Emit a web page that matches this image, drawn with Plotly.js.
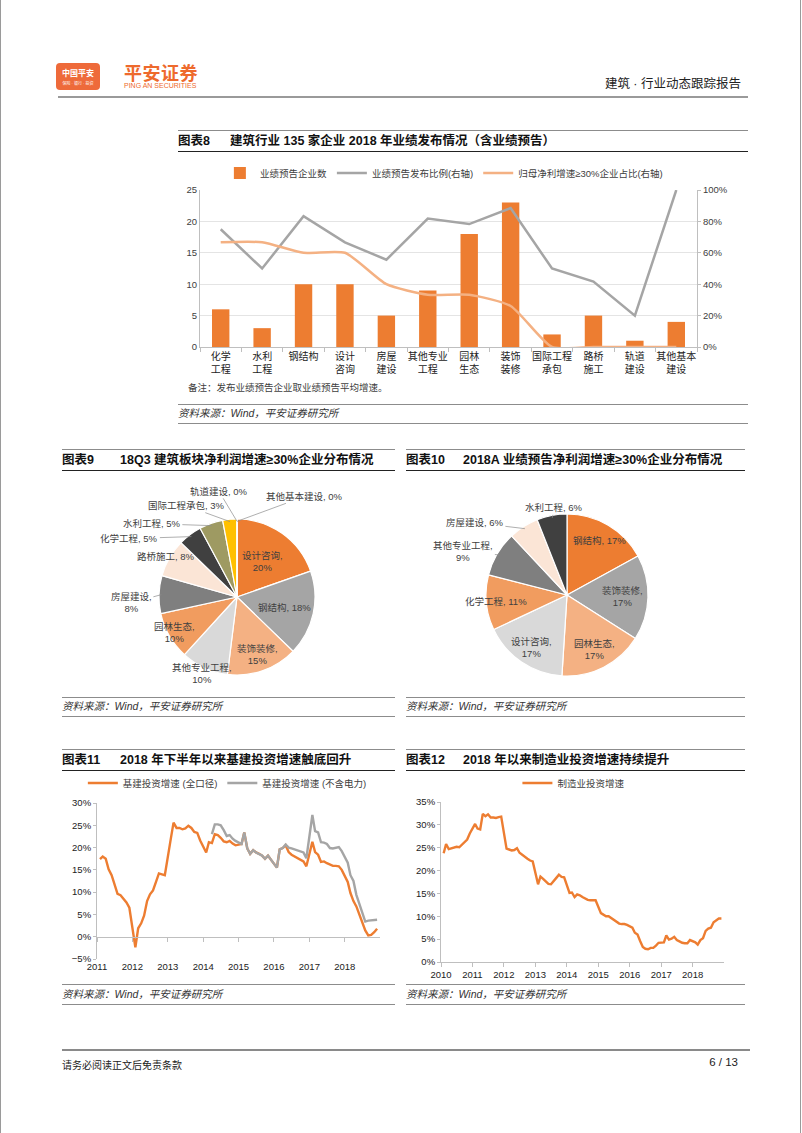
<!DOCTYPE html>
<html><head><meta charset="utf-8">
<script src="https://cdn.plot.ly/plotly-3.0.1.min.js"></script>
<style>
body{margin:0;width:802px;height:1133px;position:relative;background:#fff;font-family:"Liberation Sans","Noto Sans CJK SC",sans-serif;overflow:hidden}
.abs{position:absolute;white-space:nowrap}
.rule{position:absolute;height:0;border-top:1px solid #8c8c8c}
.brule{position:absolute;height:0;border-top:1.3px solid #222}
.ttl{position:absolute;font-weight:bold;font-size:12.5px;color:#111;white-space:nowrap;line-height:14px}
.src{position:absolute;font-style:italic;font-size:10.5px;color:#333;white-space:nowrap;line-height:12px}
.chart{position:absolute}
</style></head>
<body>
<div class="abs" style="left:0;top:0;width:1px;height:1133px;background:#9a9a9a"></div>
<div class="abs" style="left:800px;top:0;width:1px;height:1133px;background:#9a9a9a"></div>

<!-- header -->
<div class="abs" style="left:56px;top:63px;width:44px;height:27px;background:#EE6A3A;border-radius:4px"></div>
<div class="abs" style="left:56px;top:67px;width:44px;text-align:center;font-size:8px;color:#fff;font-weight:bold">中国平安</div>
<div class="abs" style="left:56px;top:80px;width:44px;text-align:center;font-size:4px;color:#fff">保险 · 银行 · 投资</div>
<div class="abs" style="left:124px;top:59px;font-size:18px;font-weight:bold;color:#EE6A2D;letter-spacing:0.5px">平安证券</div>
<div class="abs" style="left:124px;top:82px;font-size:7px;color:#EE6A2D">PING AN SECURITIES</div>
<div class="abs" style="left:560px;width:181px;top:73px;text-align:right;font-size:12.5px;color:#222">建筑 · 行业动态跟踪报告</div>
<div class="abs" style="left:58px;top:96px;width:690px;height:2px;background:#9a9a9a"></div>

<!-- chart 8 frame -->
<div class="rule" style="left:178px;top:130px;width:570px"></div>
<div class="ttl" style="left:178px;top:134px">图表8</div>
<div class="ttl" style="left:230px;top:134px">建筑行业 135 家企业 2018 年业绩发布情况（含业绩预告）</div>
<div class="brule" style="left:178px;top:151px;width:570px"></div>
<div id="c8" class="chart" style="left:178px;top:160px;width:570px;height:235px"></div>
<div class="abs" style="left:188px;top:380px;font-size:9.5px;color:#404040">备注：发布业绩预告企业取业绩预告平均增速。</div>
<div class="rule" style="left:178px;top:404px;width:570px"></div>
<div class="src" style="left:178px;top:407px">资料来源：Wind，平安证券研究所</div>
<div class="rule" style="left:178px;top:423px;width:570px"></div>

<!-- chart 9 frame -->
<div class="rule" style="left:62px;top:449px;width:333px"></div>
<div class="ttl" style="left:62px;top:453px">图表9</div>
<div class="ttl" style="left:120px;top:453px">18Q3 建筑板块净利润增速≥30%企业分布情况</div>
<div class="brule" style="left:62px;top:470px;width:333px"></div>
<div id="c9" class="chart" style="left:62px;top:475px;width:333px;height:215px"></div>
<div class="rule" style="left:62px;top:697px;width:333px"></div>
<div class="src" style="left:62px;top:700px">资料来源：Wind，平安证券研究所</div>
<div class="rule" style="left:62px;top:716px;width:333px"></div>

<!-- chart 10 frame -->
<div class="rule" style="left:406px;top:449px;width:339px"></div>
<div class="ttl" style="left:406px;top:453px">图表10</div>
<div class="ttl" style="left:463px;top:453px">2018A 业绩预告净利润增速≥30%企业分布情况</div>
<div class="brule" style="left:406px;top:470px;width:339px"></div>
<div id="c10" class="chart" style="left:405px;top:475px;width:340px;height:215px"></div>
<div class="rule" style="left:406px;top:697px;width:339px"></div>
<div class="src" style="left:406px;top:700px">资料来源：Wind，平安证券研究所</div>
<div class="rule" style="left:406px;top:716px;width:339px"></div>

<!-- chart 11 frame -->
<div class="rule" style="left:62px;top:749px;width:333px"></div>
<div class="ttl" style="left:62px;top:753px">图表11</div>
<div class="ttl" style="left:120px;top:753px">2018 年下半年以来基建投资增速触底回升</div>
<div class="brule" style="left:62px;top:770px;width:333px"></div>
<div id="c11" class="chart" style="left:62px;top:775px;width:333px;height:205px"></div>
<div class="rule" style="left:62px;top:984px;width:333px"></div>
<div class="src" style="left:62px;top:988px">资料来源：Wind，平安证券研究所</div>
<div class="rule" style="left:62px;top:1004px;width:333px"></div>

<!-- chart 12 frame -->
<div class="rule" style="left:406px;top:749px;width:339px"></div>
<div class="ttl" style="left:406px;top:753px">图表12</div>
<div class="ttl" style="left:463px;top:753px">2018 年以来制造业投资增速持续提升</div>
<div class="brule" style="left:406px;top:770px;width:339px"></div>
<div id="c12" class="chart" style="left:405px;top:775px;width:340px;height:205px"></div>
<div class="rule" style="left:406px;top:984px;width:339px"></div>
<div class="src" style="left:406px;top:988px">资料来源：Wind，平安证券研究所</div>
<div class="rule" style="left:406px;top:1004px;width:339px"></div>

<!-- footer -->
<div class="abs" style="left:62px;top:1049px;width:688px;height:2px;background:#8a8a8a"></div>
<div class="abs" style="left:62px;top:1057px;font-size:10px;color:#222">请务必阅读正文后免责条款</div>
<div class="abs" style="left:680px;width:58px;top:1056px;text-align:right;font-size:11.5px;color:#222">6 / 13</div>

<script>
// ---------- DATA ----------
// Chart 8
const cat8 = ['化学<br>工程','水利<br>工程','钢结构','设计<br>咨询','房屋<br>建设','其他专业<br>工程','园林<br>生态','装饰<br>装修','国际工程<br>承包','路桥<br>施工','轨道<br>建设','其他基本<br>建设'];
const bars8 = [6,3,10,10,5,9,18,23,2,5,1,4];
const ratio8 = [75,50,83.3,66.7,55.6,81.8,78.3,88.5,50,41.7,20,100];
const high8 = [66.7,66.7,60,60,40,33.3,33.3,26.1,0,0,0,0];
const names8 = ['业绩预告企业数','业绩预告发布比例(右轴)','归母净利增速≥30%企业占比(右轴)'];

// Chart 9
const pie9Labels = ['设计咨询','钢结构','装饰装修','其他专业工程','园林生态','房屋建设','路桥施工','化学工程','水利工程','国际工程承包','轨道建设','其他基本建设'];
const pie9Values = [20,18,15,10,10,8,8,5,5,3,0,0];

// Chart 10
const pie10Labels = ['钢结构','装饰装修','园林生态','设计咨询','化学工程','其他专业工程','房屋建设','水利工程'];
const pie10Values = [17,17,17,17,11,9,6,6];

// Chart 11 (monthly Feb..Dec)
const years11 = [2011,2012,2013,2014,2015,2016,2017,2018];
const infraAll = [
  17.4,18.0,17.5,15.1,13.8,11.6,9.6,9.3,8.6,7.7,6.5,
  -2.4,1.9,3.0,4.7,8.0,9.5,10.4,12.3,14.2,14.0,13.8,
  22.0,25.6,24.4,24.4,24.1,24.3,24.9,24.4,23.5,23.3,21.6,
  18.9,21.2,21.0,23.0,22.8,22.2,21.4,21.2,21.5,20.9,20.5,
  20.8,23.4,19.8,18.6,19.4,18.9,18.6,18.2,17.5,18.2,17.3,
  15.5,19.6,19.9,20.5,19.0,18.4,18.0,17.6,17.3,16.9,15.8,
  21.3,19.0,18.4,16.8,16.9,16.5,16.2,15.9,15.9,15.8,15.0,
  12.3,9.8,8.0,6.8,4.9,3.1,1.4,0.3,0.4,1.0,1.8
];
const infraExStart = '2014-04';
const infraEx = [
  23.0,25.2,25.2,25.0,23.9,22.6,22.8,22.0,21.5,
  20.8,23.4,19.8,18.6,19.4,18.9,18.6,18.2,17.5,18.2,17.3,
  15.5,19.6,19.9,20.7,20.0,19.8,19.6,19.4,19.2,18.9,17.6,
  27.3,23.7,23.4,21.2,21.1,20.8,19.9,19.8,19.9,20.1,19.2,
  16.6,13.8,12.5,9.4,7.2,5.5,3.4,3.6,3.7,3.8,3.8
];
const names11 = ['基建投资增速 (全口径)','基建投资增速 (不含电力)'];

// Chart 12 (monthly Feb..Dec)
const years12 = [2010,2011,2012,2013,2014,2015,2016,2017,2018];
const manuf = [
  23.8,25.8,24.7,24.9,25.1,25.2,25.1,25.6,26.1,26.8,28.1,
  30.2,29.2,29.0,32.4,31.9,32.3,31.6,31.6,31.5,31.7,31.8,
  24.8,24.6,24.4,24.5,24.9,23.9,23.4,22.9,22.6,22.2,22.0,
  17.0,18.7,18.2,17.6,17.1,17.0,17.6,18.4,19.1,18.6,18.5,
  15.1,15.2,14.2,14.8,14.6,14.2,13.9,13.6,13.5,13.5,13.5,
  10.7,10.4,10.0,10.0,9.6,9.2,8.8,8.4,8.3,8.3,8.1,
  7.5,6.4,6.0,4.6,3.3,2.9,2.8,3.1,3.1,3.6,4.2,
  4.3,5.8,4.9,5.1,5.5,4.8,4.5,4.2,4.1,4.1,4.8,
  4.3,3.8,4.8,5.2,6.8,7.3,7.5,8.7,9.1,9.5,9.5
];
const name12 = '制造业投资增速';

// ---------- HELPERS ----------
function monthDates(years){
  const out=[];
  years.forEach(y=>{for(let m=2;m<=12;m++) out.push(y+'-'+String(m).padStart(2,'0')+'-01');});
  return out;
}
function datesFrom(start, n){
  let [y,m]=start.split('-').map(Number); const out=[];
  while(out.length<n){ out.push(y+'-'+String(m).padStart(2,'0')+'-01'); m++; if(m>12){m=2;y++;} }
  return out;
}
const FONT = '"Liberation Sans","Noto Sans CJK SC",sans-serif';
const ORANGE='#ED7D31', GRAY='#A5A5A5', LORANGE='#F4B183', AX='#BFBFBF', TXT='#404040';
const cfg={staticPlot:true,displayModeBar:false};

// ---------- CHART 8 ----------
Plotly.newPlot('c8',[
  {type:'bar',x:cat8,y:bars8,name:names8[0],marker:{color:ORANGE},width:0.42},
  {type:'scatter',mode:'lines',x:cat8,y:ratio8,yaxis:'y2',name:names8[1],line:{color:GRAY,width:2.5}},
  {type:'scatter',mode:'lines',x:cat8,y:high8,yaxis:'y2',name:names8[2],line:{color:LORANGE,width:2.5,shape:'spline',smoothing:0.6}}
],{
  width:570,height:235,margin:{l:22,r:51,t:30,b:48,autoexpand:false},
  paper_bgcolor:'rgba(0,0,0,0)',plot_bgcolor:'rgba(0,0,0,0)',
  font:{family:FONT,size:9.5,color:TXT},
  showlegend:true,
  legend:{orientation:'h',x:0.04,xanchor:'left',y:1.108,yanchor:'middle',font:{size:9.5,color:TXT},itemwidth:30,tracegroupgap:0},
  xaxis:{type:'category',tickangle:0,tickson:'boundaries',ticks:'outside',ticklen:4,tickcolor:AX,showline:true,linecolor:AX,linewidth:1,tickfont:{size:10,color:'#222'},automargin:false},
  yaxis:{range:[0,25],dtick:5,showgrid:true,gridcolor:'#E4E4E4',showline:true,linecolor:AX,zeroline:false,tickfont:{size:9.5,color:TXT},ticks:'',automargin:false},
  yaxis2:{overlaying:'y',side:'right',range:[0,100],dtick:20,ticksuffix:'%',showgrid:false,showline:true,linecolor:AX,zeroline:false,tickfont:{size:9.5,color:TXT},ticks:'outside',ticklen:3,tickcolor:AX,automargin:false}
},cfg);

// ---------- PIES (labels placed along each slice's mid-angle) ----------
function pieAnnotations(labels, values, W, H, cx, cy, R, spec){
  const total = values.reduce((a,b)=>a+b,0);
  let cum = 0; const anns=[];
  labels.forEach((lab,i)=>{
    const mid = (cum + values[i]/2)/total*2*Math.PI; cum += values[i];
    const dx = Math.sin(mid), dy = -Math.cos(mid);
    const s = spec[i];
    const text = lab+','+(s.wrap?'<br>':' ')+values[i]+'%';
    const base = {xref:'paper',yref:'paper',text:text,font:{size:9.5,color:TXT,family:FONT},xanchor:'center',yanchor:'middle',align:'center'};
    if(s.f!==undefined){
      const px = cx + dx*R*s.f, py = cy + dy*R*s.f;
      anns.push(Object.assign(base,{x:px/W,y:1-py/H,showarrow:false}));
    } else {
      const px = cx + dx*R*0.97, py = cy + dy*R*0.97;
      anns.push(Object.assign(base,{x:px/W,y:1-py/H,showarrow:true,arrowhead:0,arrowwidth:0.7,arrowcolor:'#8c8c8c',ax:s.ax,ay:s.ay,standoff:0}));
    }
  });
  return anns;
}
function pieDomain(W,H,cx,cy,R){ return {x:[(cx-R)/W,(cx+R)/W], y:[1-(cy+R)/H, 1-(cy-R)/H]}; }

// chart 9
const W9=333,H9=215,cx9=175,cy9=122,R9=78;
const pie9Colors=['#ED7D31','#A5A5A5','#F4B183','#D9D9D9','#F19C5F','#7F7F7F','#FBE5D6','#404040','#9E9A62','#FFC000','#FFC000','#ED7D31'];
const pie9Spec=[{f:0.56,wrap:1},{f:0.62,wrap:0},{f:0.78,wrap:1},{f:1.08,wrap:1},{f:0.92,wrap:1},{ax:-30,ay:8,wrap:1},{f:1.05,wrap:0},
  {ax:-62,ay:2,wrap:0},{ax:-60,ay:-2,wrap:0},{ax:-44,ay:-16,wrap:0},{ax:-18,ay:-30,wrap:0},{ax:68,ay:-25,wrap:0}];
Plotly.newPlot('c9',[{
  type:'pie',labels:pie9Labels,values:pie9Values,sort:false,direction:'clockwise',rotation:0,
  marker:{colors:pie9Colors,line:{color:'#fff',width:1.2}},textinfo:'none',
  domain:pieDomain(W9,H9,cx9,cy9,R9),showlegend:false,automargin:false
}],{width:W9,height:H9,margin:{l:0,r:0,t:0,b:0,autoexpand:false},paper_bgcolor:'rgba(0,0,0,0)',font:{family:FONT},
  annotations:pieAnnotations(pie9Labels,pie9Values,W9,H9,cx9,cy9,R9,pie9Spec)},cfg);

// chart 10
const W10=340,H10=215,cx10=162,cy10=120,R10=81;
const pie10Colors=['#ED7D31','#A5A5A5','#F4B183','#D9D9D9','#F19C5F','#7F7F7F','#FBE5D6','#404040'];
const pie10Spec=[{f:0.78,wrap:0},{f:0.68,wrap:1},{f:0.76,wrap:1},{f:0.78,wrap:1},{f:0.88,wrap:0},{ax:-36,ay:-4,wrap:1},{ax:-50,ay:-6,wrap:0},{ax:2,ay:-10,wrap:0}];
Plotly.newPlot('c10',[{
  type:'pie',labels:pie10Labels,values:pie10Values,sort:false,direction:'clockwise',rotation:0,
  marker:{colors:pie10Colors,line:{color:'#fff',width:1.2}},textinfo:'none',
  domain:pieDomain(W10,H10,cx10,cy10,R10),showlegend:false,automargin:false
}],{width:W10,height:H10,margin:{l:0,r:0,t:0,b:0,autoexpand:false},paper_bgcolor:'rgba(0,0,0,0)',font:{family:FONT},
  annotations:pieAnnotations(pie10Labels,pie10Values,W10,H10,cx10,cy10,R10,pie10Spec)},cfg);

// ---------- CHART 11 ----------
const x11=monthDates(years11);
const x11b=datesFrom(infraExStart, infraEx.length);
Plotly.newPlot('c11',[
  {type:'scatter',mode:'lines',x:x11,y:infraAll,name:names11[0],line:{color:ORANGE,width:2.4}},
  {type:'scatter',mode:'lines',x:x11b,y:infraEx,name:names11[1],line:{color:GRAY,width:2.4}},
  {type:'scatter',mode:'lines',x:[],y:[],xaxis:'x2',showlegend:false,hoverinfo:'skip'}
],{
  width:333,height:205,margin:{l:35,r:15,t:28,b:21,autoexpand:false},
  paper_bgcolor:'rgba(0,0,0,0)',plot_bgcolor:'rgba(0,0,0,0)',
  font:{family:FONT,size:9.5,color:TXT},showlegend:true,
  legend:{orientation:'h',x:-0.05,xanchor:'left',y:1.128,yanchor:'middle',font:{size:9.5,color:TXT},traceorder:'normal'},
  xaxis:{type:'date',range:['2011-01-01','2018-12-31'],dtick:'M12',tick0:'2011-01-01',tickformat:'%Y',ticks:'',showline:false,showgrid:false,zeroline:false,tickfont:{size:9.5,color:'#222'},automargin:false},
  xaxis2:{type:'date',overlaying:'x',anchor:'free',position:5/35,range:['2011-01-01','2018-12-31'],dtick:'M12',tick0:'2011-01-01',ticks:'outside',ticklen:4,tickcolor:AX,showline:true,linecolor:AX,showticklabels:false,showgrid:false,zeroline:false},
  yaxis:{range:[-5,30],dtick:5,ticksuffix:'%',showgrid:false,zeroline:false,showline:true,linecolor:AX,ticks:'outside',ticklen:3,tickcolor:AX,tickfont:{size:9.5,color:'#222'},automargin:false}
},cfg);

// ---------- CHART 12 ----------
const x12=monthDates(years12);
Plotly.newPlot('c12',[
  {type:'scatter',mode:'lines',x:x12,y:manuf,name:name12,line:{color:ORANGE,width:2.4},showlegend:true}
],{
  width:340,height:205,margin:{l:36,r:21,t:27,b:18,autoexpand:false},
  paper_bgcolor:'rgba(0,0,0,0)',plot_bgcolor:'rgba(0,0,0,0)',
  font:{family:FONT,size:9.5,color:TXT},showlegend:true,
  legend:{orientation:'h',x:0.27,xanchor:'left',y:1.119,yanchor:'middle',font:{size:9.5,color:TXT}},
  xaxis:{type:'date',range:['2010-01-01','2018-12-31'],dtick:'M12',tick0:'2010-01-01',tickformat:'%Y',ticks:'outside',ticklen:4,tickcolor:AX,showline:true,linecolor:AX,showgrid:false,zeroline:false,tickfont:{size:9.5,color:'#222'},automargin:false},
  yaxis:{range:[0,35],dtick:5,ticksuffix:'%',showgrid:false,zeroline:false,showline:true,linecolor:AX,ticks:'outside',ticklen:3,tickcolor:AX,tickfont:{size:9.5,color:'#222'},automargin:false}
},cfg);
</script>
</body></html>
